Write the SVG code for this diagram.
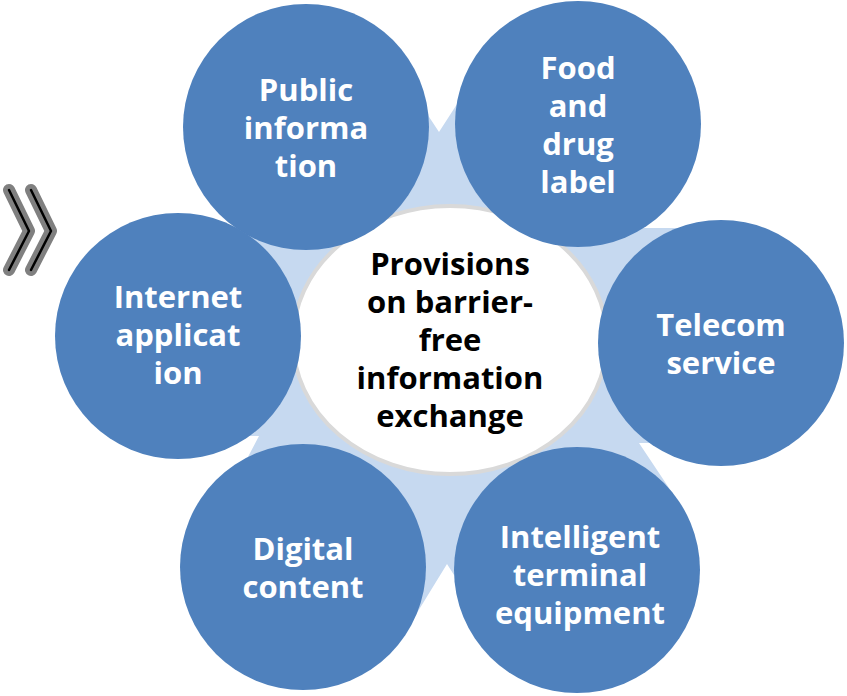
<svg xmlns="http://www.w3.org/2000/svg" width="847" height="696" viewBox="0 0 847 696">
<style>
.c{fill:#4f81bd}
.t{font-family:"Open Sans","Noto Sans","Liberation Sans",sans-serif;font-weight:bold;font-size:31px;fill:#fff;text-anchor:middle}
.ct{font-family:"Open Sans","Noto Sans","Liberation Sans",sans-serif;font-weight:bold;font-size:31px;fill:#000;text-anchor:middle}
.chg{fill:none;stroke:#808080;stroke-width:12;stroke-linecap:round;stroke-linejoin:round}
.chb{fill:none;stroke:#000;stroke-width:2.5;stroke-linecap:round;stroke-linejoin:round}
</style>
<rect width="847" height="696" fill="#fff"/>
<g id="chevrons">
<polyline class="chg" points="9,190 29,231 9,270"/>
<polyline class="chb" points="9,190 29,231 9,270"/>
<polyline class="chg" points="31,190 51,231 31,270"/>
<polyline class="chb" points="31,190 51,231 31,270"/>
</g>
<g id="connectors">
<polygon fill="#c6d9f0" points="439,132 470,84 600,228 720,228 700,443 639,443 675,497 600,620 470,600 447,564 412,621 300,620 240,472 259,436 200,436 245,236 350,60 410,88"/>
</g>
<g id="center">
<ellipse cx="450" cy="340" rx="157" ry="134" fill="#fff" stroke="#d9d9d9" stroke-width="4"/>
<text class="ct" x="450" y="275">Provisions</text>
<text class="ct" x="450" y="313">on barrier-</text>
<text class="ct" x="450" y="351">free</text>
<text class="ct" x="450" y="389">information</text>
<text class="ct" x="450" y="427">exchange</text>
</g>
<g id="public">
<circle class="c" cx="306" cy="127" r="123"/>
<text class="t" x="306" y="101">Public</text>
<text class="t" x="306" y="139">informa</text>
<text class="t" x="306" y="177">tion</text>
</g>
<g id="food">
<circle class="c" cx="578" cy="124" r="123"/>
<text class="t" x="578" y="79">Food</text>
<text class="t" x="578" y="117">and</text>
<text class="t" x="578" y="155">drug</text>
<text class="t" x="578" y="193">label</text>
</g>
<g id="telecom">
<circle class="c" cx="721" cy="343" r="123"/>
<text class="t" x="721" y="336">Telecom</text>
<text class="t" x="721" y="374">service</text>
</g>
<g id="intelligent">
<circle class="c" cx="577" cy="570" r="123"/>
<text class="t" x="580" y="548">Intelligent</text>
<text class="t" x="580" y="586">terminal</text>
<text class="t" x="580" y="624">equipment</text>
</g>
<g id="digital">
<circle class="c" cx="303" cy="567" r="123"/>
<text class="t" x="303" y="560">Digital</text>
<text class="t" x="303" y="598">content</text>
</g>
<g id="internet">
<circle class="c" cx="178" cy="336" r="123"/>
<text class="t" x="178" y="308">Internet</text>
<text class="t" x="178" y="346">applicat</text>
<text class="t" x="178" y="384">ion</text>
</g>
</svg>
